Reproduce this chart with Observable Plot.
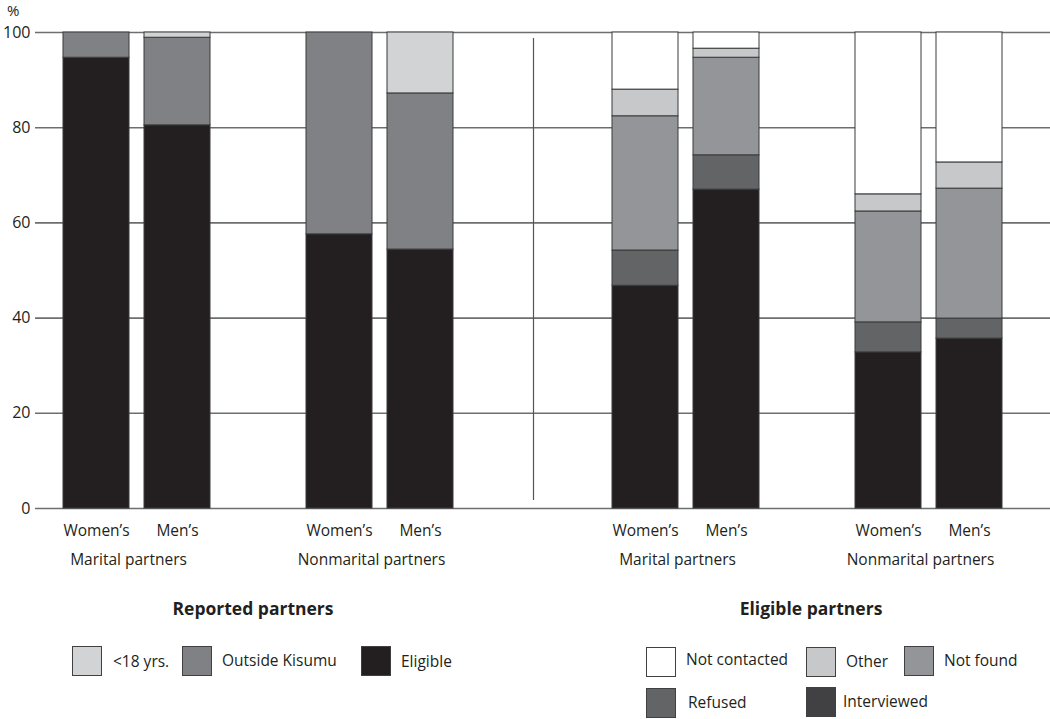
<!DOCTYPE html>
<html><head><meta charset="utf-8">
<script src="https://cdn.jsdelivr.net/npm/d3@7"></script>
<script src="https://cdn.jsdelivr.net/npm/@observablehq/plot@0.6"></script>
<style>
body{margin:0;background:#fff;font-family:"Open Sans",sans-serif;color:#231f20}
#wrap{position:relative;width:1050px;height:719px;overflow:hidden;background:#fff}
.layer{position:absolute;left:0;top:0}
.title{position:absolute;top:596px;font-weight:bold;font-size:17.5px;transform:translateX(-50%);white-space:nowrap}
.sw{position:absolute;width:30px;height:30px;border:1.5px solid #404040;box-sizing:border-box}
.lb{position:absolute;font-size:15.5px;transform:translateY(-50%);white-space:nowrap}
.pct{position:absolute;left:7px;top:2px;font-size:15px;line-height:17px}
</style></head><body>
<div id="wrap"><div id="chartR" class="layer"></div><div id="chartE" class="layer"></div><div class="pct">%</div></div>
<script>
// ---------- data ----------
const sexLabels = ["Women\u2019s", "Men\u2019s"];
const groupLabels = ["Marital partners", "Nonmarital partners"];
const panelTitles = ["Reported partners", "Eligible partners"];
const yTicks = [0, 20, 40, 60, 80, 100];

// Reported partners (bars: Marital W, Marital M, Nonmarital W, Nonmarital M), bottom to top
const reportedCategories = ["Eligible", "Outside Kisumu", "<18 yrs."];
const reportedEligible  = [94.7, 80.5, 57.6, 54.4];
const reportedOutside   = [5.3, 18.4, 42.4, 32.8];
const reportedUnder18   = [0.0, 1.1, 0.0, 12.8];
const reportedColors = ["#231f20", "#808184", "#d1d3d4"];

// Eligible partners, bottom to top
const eligibleCategories = ["Interviewed", "Refused", "Not found", "Other", "Not contacted"];
const eligibleInterviewed  = [46.8, 67.0, 32.8, 35.7];
const eligibleRefused      = [7.4, 7.2, 6.3, 4.2];
const eligibleNotFound     = [28.2, 20.5, 23.3, 27.3];
const eligibleOther        = [5.6, 1.9, 3.6, 5.5];
const eligibleNotContacted = [12.0, 3.4, 34.0, 27.3];
const eligibleColors = ["#231f20", "#636466", "#939598", "#c7c8ca", "#ffffff"];
const eligibleLegendColors = ["#414042", "#636466", "#939598", "#c7c8ca", "#ffffff"];

// ---------- tables ----------
function buildPanel(categories, series) {
  const rows = [], slots = [], groupRows = [], sexOf = {};
  groupLabels.forEach((gl, g) => {
    groupRows.push({slot: `${g}-0`, group: gl});
    sexLabels.forEach((sl, s) => {
      const id = `${g}-${s}`;
      slots.push(id); sexOf[id] = sl;
      const i = g * 2 + s;
      categories.forEach((c, k) => rows.push({slot: id, category: c, value: series[k][i]}));
    });
  });
  return {rows, slots, groupRows, sexOf};
}
const R = buildPanel(reportedCategories, [reportedEligible, reportedOutside, reportedUnder18]);
const E = buildPanel(eligibleCategories, [eligibleInterviewed, eligibleRefused, eligibleNotFound, eligibleOther, eligibleNotContacted]);

const font = "'Open Sans', sans-serif";
function makeChart(P, categories, colors, align, base, extra) {
  const domain = [P.slots[0], P.slots[1], "gap", P.slots[2], P.slots[3]];
  return Plot.plot({
    width: 1050, height: 590,
    marginTop: 32, marginBottom: 82, marginLeft: 35, marginRight: 0,
    style: {fontFamily: font, fontSize: "15.5px", color: "#231f20", background: base ? "#fff" : "transparent"},
    x: {type: "band", domain, paddingInner: 0.19, paddingOuter: 3.822, align, axis: null},
    y: {domain: [0, 100], axis: null},
    color: {domain: categories, range: colors},
    marks: [
      ...(base ? [
        Plot.gridY(yTicks, {stroke: "#6d6e71", strokeOpacity: 1, strokeWidth: 1.6}),
        Plot.axisY(yTicks, {tickSize: 0, tickPadding: 5, fontSize: 16, label: null})
      ] : []),
      ...extra,
      Plot.barY(P.rows, {x: "slot", y: "value", fill: "category", stroke: "#3a3a3a", strokeWidth: 1, order: null}),
      Plot.axisX(P.slots, {tickSize: 0, tickPadding: 16, tickFormat: s => P.sexOf[s], label: null, fontSize: 15.5}),
      Plot.text(P.groupRows, {x: "slot", frameAnchor: "bottom", lineAnchor: "top", dy: 45, dx: 32, text: "group", fontSize: 15.5})
    ]
  });
}
document.getElementById("chartR").appendChild(makeChart(R, reportedCategories, reportedColors, 0.0449, true, []));
document.getElementById("chartE").appendChild(makeChart(E, eligibleCategories, eligibleColors, 0.923, false, [
  Plot.ruleX([E.slots[0]], {x: d => d, dx: -112, insetTop: 6, insetBottom: 8, stroke: "#555", strokeWidth: 1.2})
]));

// ---------- titles & legends (HTML) ----------
const wrap = document.getElementById("wrap");
const titleX = [253, 811];
panelTitles.forEach((t, i) => {
  const d = document.createElement("div");
  d.className = "title"; d.textContent = t; d.style.left = titleX[i] + "px";
  wrap.appendChild(d);
});
const legendLayout = [
  {cat: reportedCategories[2], color: reportedColors[2], sx: 72, sy: 646, tx: 113, ty: 661},
  {cat: reportedCategories[1], color: reportedColors[1], sx: 182, sy: 646, tx: 222, ty: 660},
  {cat: reportedCategories[0], color: reportedColors[0], sx: 361, sy: 646, tx: 401, ty: 661},
  {cat: eligibleCategories[4], color: eligibleLegendColors[4], sx: 646, sy: 647, tx: 686, ty: 659},
  {cat: eligibleCategories[3], color: eligibleLegendColors[3], sx: 806, sy: 647, tx: 846, ty: 661},
  {cat: eligibleCategories[2], color: eligibleLegendColors[2], sx: 904, sy: 646, tx: 944, ty: 660},
  {cat: eligibleCategories[1], color: eligibleLegendColors[1], sx: 646, sy: 688, tx: 688, ty: 702},
  {cat: eligibleCategories[0], color: eligibleLegendColors[0], sx: 806, sy: 687, tx: 843, ty: 701}
];
legendLayout.forEach(l => {
  const s = document.createElement("div");
  s.className = "sw"; s.style.left = l.sx + "px"; s.style.top = l.sy + "px"; s.style.background = l.color;
  wrap.appendChild(s);
  const t = document.createElement("div");
  t.className = "lb"; t.textContent = l.cat; t.style.left = l.tx + "px"; t.style.top = l.ty + "px";
  wrap.appendChild(t);
});
</script>
</body></html>
